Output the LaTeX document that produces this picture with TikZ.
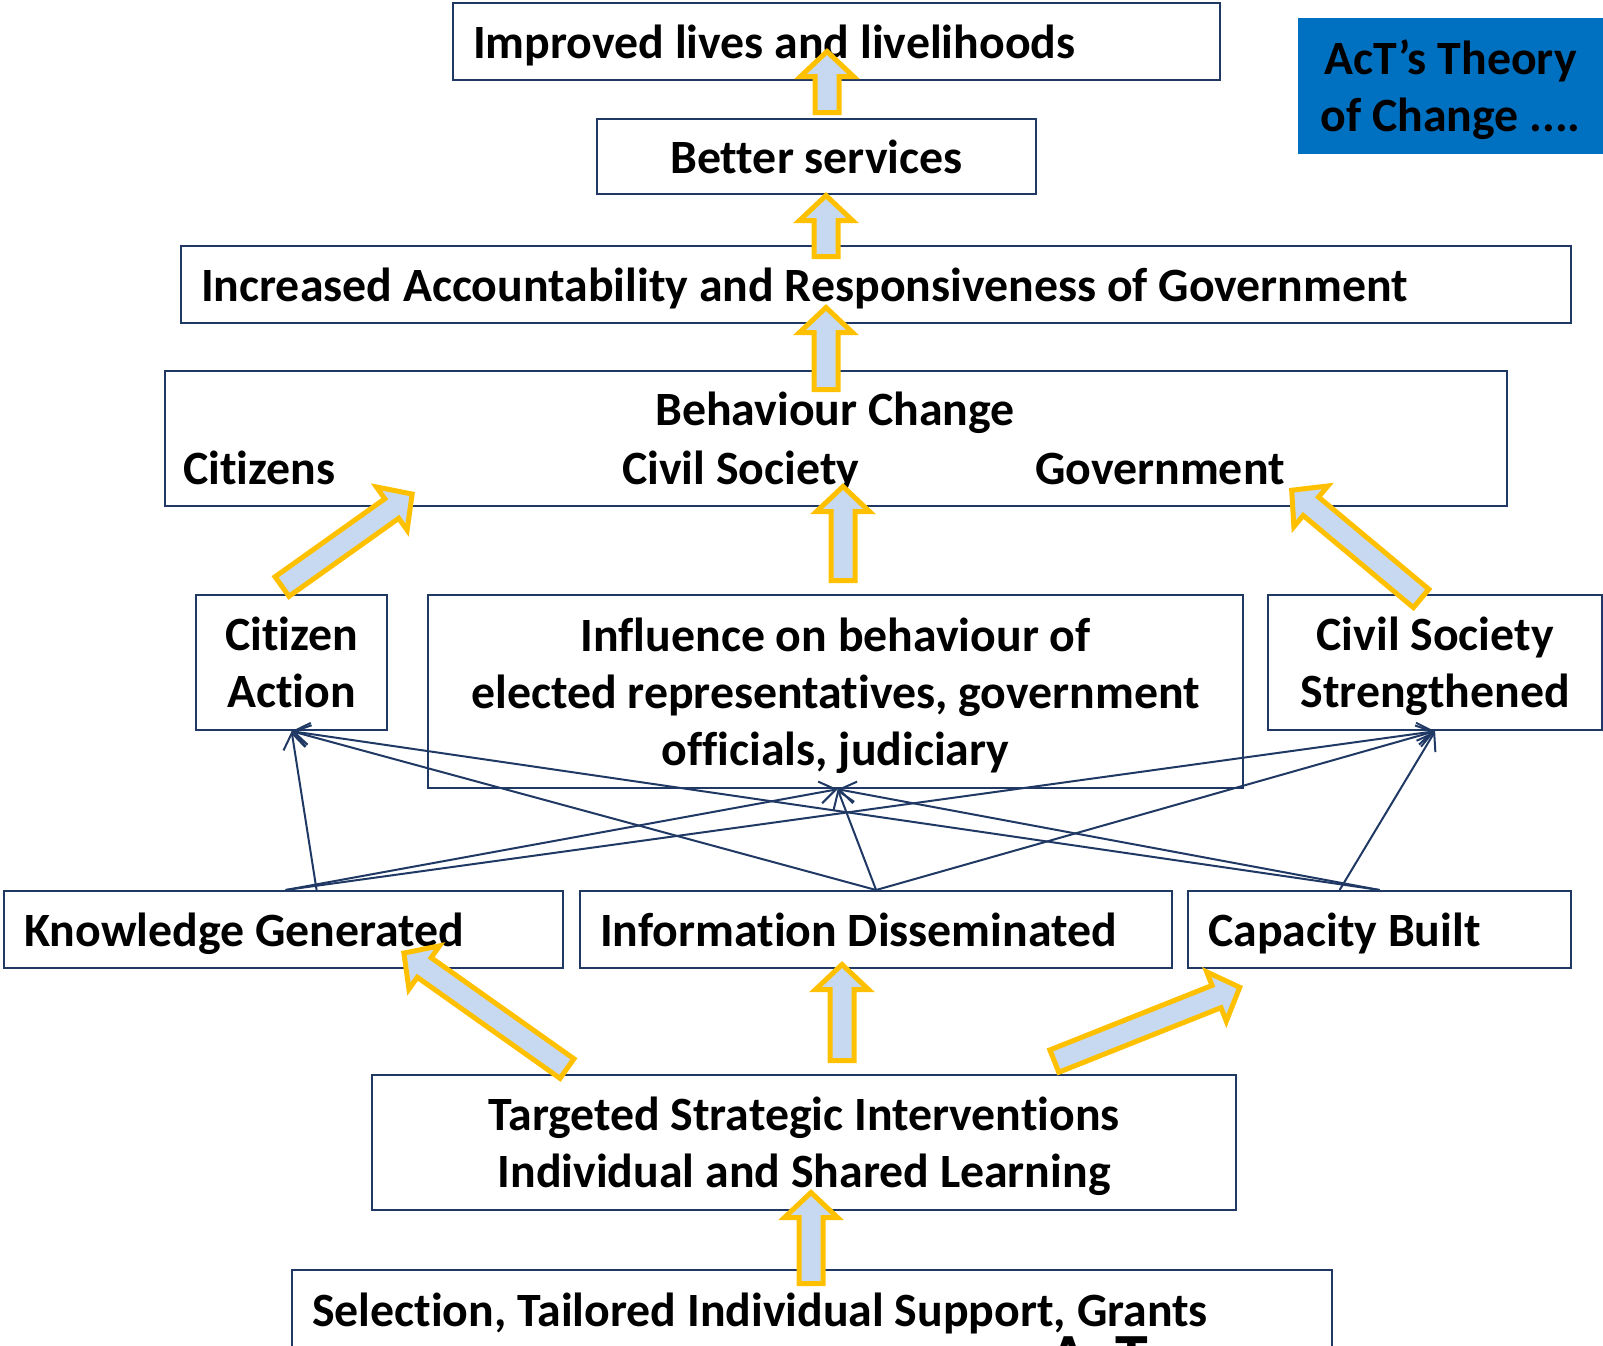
\documentclass[tikz,border=0pt]{standalone}
\usepackage{fontspec}
\setmainfont{Carlito}[Ligatures=NoCommon]
\usetikzlibrary{calc}
\usetikzlibrary{arrows.meta}
\definecolor{boxNavy}{RGB}{31,56,100}
\definecolor{arrowGold}{RGB}{255,192,0}
\definecolor{arrowFill}{RGB}{198,217,240}
\definecolor{titleBlue}{RGB}{0,112,192}
\newcommand{\textBox}[6]{%%
  %% A framed box: name, top left corner, width, height, options, text.
  \pgfmathsetmacro{\innerWidth}{#3-40}
  \node[boxStyle,anchor=north west,minimum width=#3,minimum height=#4,
    text width=\innerWidth pt,#5] (#1) at #2 {#6};
}
\newcommand{\fatArrow}[2]{%%
  %% Measure the way from the tail to the tip.
  \path let \p1=($(#2)-(#1)$) in
    \pgfextra{\pgfmathsetmacro{\arrowAngle}{atan2(\y1,\x1)}%
      \pgfmathsetmacro{\arrowLength}{veclen(\x1,\y1)-3.5}%
      \pgfmathsetmacro{\arrowNeck}{\arrowLength-\headLength}%
      \xdef\arrowAngleG{\arrowAngle}\xdef\arrowLengthG{\arrowLength}%
      \xdef\arrowNeckG{\arrowNeck}};
  %% The block arrow itself.
  \begin{scope}[shift={(#1)},rotate=\arrowAngleG]
    \draw[fatStyle] (2.5,-\shaftHalf) -- (\arrowNeckG,-\shaftHalf)
      -- (\arrowNeckG,-\headHalf) -- (\arrowLengthG,0)
      -- (\arrowNeckG,\headHalf) -- (\arrowNeckG,\shaftHalf)
      -- (2.5,\shaftHalf) -- cycle;
  \end{scope}
}

\begin{document}
\begin{tikzpicture}[%%
  x=1pt,y=-1pt,%%
  boxStyle/.style={draw=boxNavy,line width=2.2,inner xsep=20,inner ysep=0,%%
    execute at begin node={\spaceskip=\fontdimen2\font\relax\xspaceskip=\spaceskip},%%
    font=\bfseries\fontsize{47.8}{57}\selectfont},%%
  oneLine/.style={text height=42pt,text depth=9pt},%%
  twoLines/.style={text height=42pt,text depth=66pt},%%
  threeLines/.style={text height=42pt,text depth=123pt},%%
  labelStyle/.style={inner sep=0,font=\bfseries\fontsize{47.8}{57}\selectfont},%%
  titleStyle/.style={fill=titleBlue,inner sep=0,align=center,%%
    text height=99pt,text depth=9pt,font=\bfseries\fontsize{47.8}{57}\selectfont},%%
  fatStyle/.style={draw=arrowGold,fill=arrowFill,line width=5,line join=miter},%%
  thinStyle/.style={draw=boxNavy,line width=2,-{Straight Barb[length=16pt,width=22pt]}}%%
]
%%
%%
\pgfmathsetmacro{\shaftHalf}{12}
\pgfmathsetmacro{\headHalf}{26.5}
\pgfmathsetmacro{\headLength}{25}
\useasboundingbox (0,0) rectangle (1603,1345);
\clip (0,0) rectangle (1603,1345);
%% The results chain.
\textBox{lives}{(452,2)}{767}{77}{align=left,oneLine}{Improved lives and livelihoods}
\textBox{services}{(596,118)}{439}{75}{align=center,oneLine}{Better services}
\textBox{accountability}{(180,245)}{1390}{77}{align=left,oneLine}{Increased Accountability and Responsiveness of Government}
\textBox{behaviour}{(164,370)}{1342}{135}{align=center}{}
\node[labelStyle,anchor=base] (change) at (835,425) {Behaviour Change};
\node[labelStyle,anchor=base west] (citizens) at (183,484) {Citizens};
\node[labelStyle,anchor=base west] (civil) at (622,484) {Civil Society};
\node[labelStyle,anchor=base west] (government) at (1035,484) {Government};
%% The outcomes.
\textBox{citizenAction}{(195,594)}{191}{135}{align=center,twoLines}{Citizen\\Action}
\textBox{influence}{(427,594)}{815}{193}{align=center,threeLines}{Influence on behaviour of\\elected representatives, government\\officials, judiciary}
\textBox{civilStrength}{(1267,594)}{334}{135}{align=center,twoLines}{Civil Society\\Strengthened}
%% The outputs.
\textBox{knowledge}{(3,890)}{559}{77}{align=left,oneLine}{Knowledge Generated}
\textBox{information}{(579,890)}{592}{77}{align=left,oneLine}{Information Disseminated}
\textBox{capacity}{(1187,890)}{383}{77}{align=left,oneLine}{Capacity Built}
\textBox{targeted}{(371,1074)}{864}{135}{align=center,twoLines}{Targeted Strategic Interventions\\Individual and Shared Learning}
\textBox{selection}{(291,1269)}{1040}{80}{align=left,oneLine}{Selection, Tailored Individual Support, Grants}
\node[labelStyle,anchor=north west,font=\bfseries\fontsize{66}{66}\selectfont] (logo) at (1048,1336) {AcT};
%% The title.
\node[titleStyle,anchor=north west,minimum width=305,minimum height=136] (title) at (1298,18) {AcT’s Theory\\of Change ....};
%%
%%
%% Thin links from outputs to outcomes.
\coordinate (knowA) at ([xshift=2]knowledge.north);
\coordinate (knowB) at ([xshift=33]knowledge.north);
\coordinate (capA) at ([xshift=-40]capacity.north);
\coordinate (influenceTip) at ([xshift=2]influence.south);
\draw[thinStyle] (knowB) -- (citizenAction.south);
\draw[thinStyle] (knowA) -- (influenceTip);
\draw[thinStyle] (knowA) -- (civilStrength.south);
\draw[thinStyle] (information.north) -- (citizenAction.south);
\draw[thinStyle] (information.north) -- (influenceTip);
\draw[thinStyle] (information.north) -- (civilStrength.south);
\draw[thinStyle] (capacity.north) -- (citizenAction.south);
\draw[thinStyle] (capacity.north) -- (influenceTip);
\draw[thinStyle] (capA) -- (civilStrength.south);
%% Block arrows: tails and tips.
\coordinate (servicesTail) at (827,115);
\coordinate (servicesTip) at (827,48);
\coordinate (accountTail) at (826,259);
\coordinate (accountTip) at (826,192);
\coordinate (behaviourTail) at (826,392);
\coordinate (behaviourTip) at (826,304);
\coordinate (influenceTail) at (843,583);
\coordinate (influenceHead) at (843,483);
\coordinate (citizenTail) at (280,588);
\coordinate (citizenTip) at (415,492);
\coordinate (strengthTail) at (1423,600);
\coordinate (strengthTip) at (1289,488);
\coordinate (knowledgeTail) at (569,1070);
\coordinate (knowledgeTip) at (401,951);
\coordinate (informationTail) at (842,1063);
\coordinate (informationTip) at (842,961);
\coordinate (capacityTail) at (1052,1062);
\coordinate (capacityTip) at (1243,986);
\coordinate (selectionTail) at (811,1286);
\coordinate (selectionTip) at (811,1189);
\fatArrow{servicesTail}{servicesTip}
\fatArrow{accountTail}{accountTip}
\fatArrow{behaviourTail}{behaviourTip}
\fatArrow{influenceTail}{influenceHead}
\fatArrow{citizenTail}{citizenTip}
\fatArrow{strengthTail}{strengthTip}
\fatArrow{knowledgeTail}{knowledgeTip}
\fatArrow{informationTail}{informationTip}
\fatArrow{capacityTail}{capacityTip}
\fatArrow{selectionTail}{selectionTip}
\end{tikzpicture}
\end{document}
